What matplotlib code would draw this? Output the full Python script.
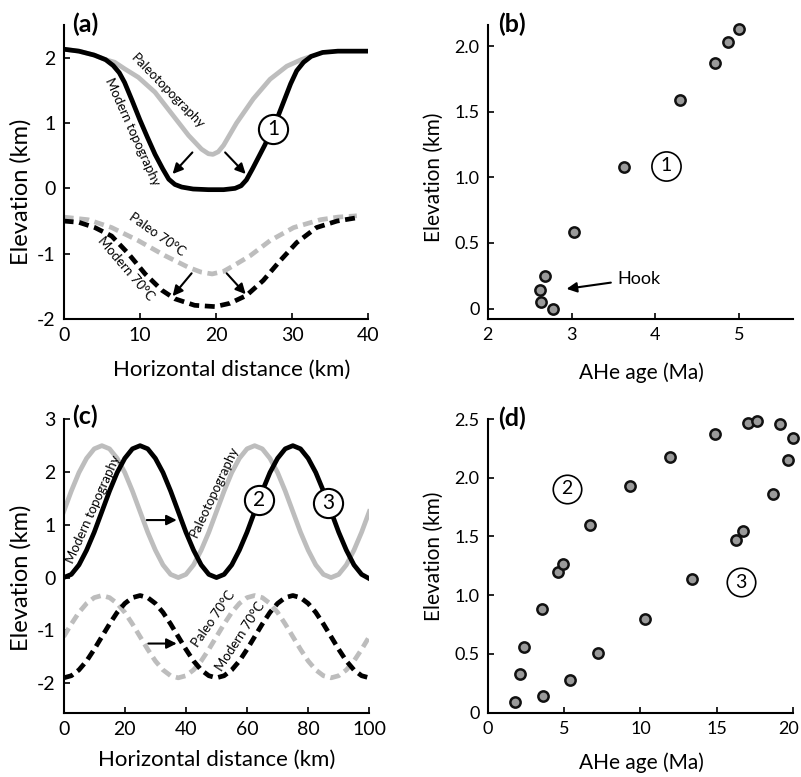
import numpy as np
import matplotlib
matplotlib.use("Agg")
import matplotlib.pyplot as plt
import matplotlib.transforms as mtransforms

plt.rcParams['font.family'] = ['Lato', 'DejaVu Sans']
plt.rcParams['axes.unicode_minus'] = False

# ---- panel (a): valley profiles ----
a_mod_x = [0, 2, 4, 5.5, 6.5, 7.3, 8, 9, 10, 11, 12, 13, 13.8, 14.6, 15.5, 17, 19, 21,
           22.5, 23.3, 24, 24.8, 25.6, 26.4, 27.3, 28.2, 29, 29.8, 30.6, 31.5, 32.5, 34, 36, 38, 40]
a_mod_y = [2.13, 2.10, 2.04, 1.97, 1.88, 1.77, 1.62, 1.34, 1.05, 0.78, 0.52, 0.30, 0.14, 0.06, 0.02,
           -0.01, -0.02, -0.02, 0.0, 0.04, 0.13, 0.30, 0.48, 0.66, 0.88, 1.12, 1.36, 1.60, 1.80, 1.93,
           2.02, 2.08, 2.10, 2.10, 2.10]
a_paleo_x = [0, 2, 4, 5.5, 6.7, 8, 9.8, 12, 14.2, 16.4, 18.1, 19.0, 19.6, 20.3, 21.0, 22.7, 24.9,
             27.1, 29.3, 31.2, 32.5]
a_paleo_y = [2.13, 2.10, 2.04, 1.97, 1.93, 1.83, 1.70, 1.47, 1.14, 0.81, 0.60, 0.53, 0.52, 0.56,
             0.66, 1.00, 1.37, 1.67, 1.87, 1.97, 2.02]
a_p70_x = [0, 3.2, 6.3, 9.8, 13.3, 16.4, 18, 19.5, 21, 22.5, 24.5, 27.1, 30.2, 33.7, 36, 38.5]
a_p70_y = [-0.44, -0.48, -0.60, -0.80, -1.03, -1.21, -1.28, -1.31, -1.27, -1.17, -1.03, -0.80,
           -0.60, -0.48, -0.44, -0.42]
a_m70_x = [0, 2, 4.1, 6.3, 8.5, 10.7, 12.9, 14.6, 17.2, 19.9, 21.8, 24.0, 26.2, 28.4, 30.6, 33.2,
           35.9, 38.5]
a_m70_y = [-0.50, -0.52, -0.60, -0.73, -1.00, -1.31, -1.56, -1.69, -1.79, -1.81, -1.76, -1.64,
           -1.41, -1.11, -0.83, -0.60, -0.50, -0.45]

# ---- panel (b): age-elevation ----
b_age = [2.68, 2.62, 2.63, 2.78, 3.03, 3.63, 4.29, 4.71, 4.86, 5.00]
b_elev = [0.25, 0.14, 0.05, 0.00, 0.58, 1.08, 1.59, 1.87, 2.03, 2.13]

# ---- panel (c): migrating ridges, sampled every 2.5 km ----
c_x = np.linspace(0, 100, 41)
c_mod = [0, 0.06, 0.24, 0.52, 0.86, 1.25, 1.64, 1.99, 2.26, 2.44, 2.5, 2.44, 2.26, 1.99, 1.64,
         1.25, 0.86, 0.52, 0.24, 0.06,
         0, 0.06, 0.24, 0.52, 0.86, 1.25, 1.64, 1.99, 2.26, 2.44, 2.5, 2.44, 2.26, 1.99, 1.64,
         1.25, 0.86, 0.52, 0.24, 0.06, -0.02]
c_paleo = [1.25, 1.64, 1.99, 2.26, 2.44, 2.5, 2.44, 2.26, 1.99, 1.64, 1.25, 0.86, 0.52, 0.24,
           0.06, 0, 0.06, 0.24, 0.52, 0.86,
           1.25, 1.64, 1.99, 2.26, 2.44, 2.5, 2.44, 2.26, 1.99, 1.64, 1.25, 0.86, 0.52, 0.24,
           0.06, 0, 0.06, 0.24, 0.52, 0.86, 1.25]
c_m70 = [-1.90, -1.86, -1.75, -1.58, -1.36, -1.12, -0.88, -0.66, -0.49, -0.38, -0.34, -0.38,
         -0.49, -0.66, -0.88, -1.12, -1.36, -1.58, -1.75, -1.86,
         -1.90, -1.86, -1.75, -1.58, -1.36, -1.12, -0.88, -0.66, -0.49, -0.38, -0.34, -0.38,
         -0.49, -0.66, -0.88, -1.12, -1.36, -1.58, -1.75, -1.86, -1.90]
c_p70 = [-1.12, -0.88, -0.66, -0.49, -0.38, -0.34, -0.38, -0.49, -0.66, -0.88, -1.12, -1.36,
         -1.58, -1.75, -1.86, -1.90, -1.86, -1.75, -1.58, -1.36,
         -1.12, -0.88, -0.66, -0.49, -0.38, -0.34, -0.38, -0.49, -0.66, -0.88, -1.12, -1.36,
         -1.58, -1.75, -1.86, -1.90, -1.86, -1.75, -1.58, -1.36, -1.12]

# ---- panel (d): age-elevation ----
d_age = [1.81, 2.12, 2.40, 3.58, 3.62, 4.60, 4.95, 5.39, 6.67, 7.24, 9.31, 10.32, 11.93, 13.35,
         14.90, 16.25, 16.73, 17.06, 17.64, 18.71, 19.13, 19.69, 20.0]
d_elev = [0.09, 0.33, 0.56, 0.88, 0.14, 1.20, 1.27, 0.28, 1.60, 0.51, 1.93, 0.80, 2.18, 1.14,
          2.37, 1.47, 1.55, 2.47, 2.48, 1.86, 2.46, 2.15, 2.34]

GRAY = '#bdbdbd'
LW = 3.4
DASH = (2.1, 1.2)

fig = plt.figure(figsize=(8.01, 7.77), dpi=100)
ax_a = fig.add_axes([0.0795, 0.5894, 0.3803, 0.3784])
ax_b = fig.add_axes([0.6089, 0.5894, 0.3812, 0.3784])
ax_c = fig.add_axes([0.0795, 0.0828, 0.3815, 0.3776])
ax_d = fig.add_axes([0.6089, 0.0828, 0.3812, 0.3779])


def style(ax, tsize):
    for s in ('top', 'right'):
        ax.spines[s].set_visible(False)
    for s in ('left', 'bottom'):
        ax.spines[s].set_linewidth(1.5)
    ax.tick_params(direction='in', length=4, width=1.2, labelsize=tsize, pad=6)


def arrow(ax, tail, head):
    ax.annotate('', xy=head, xytext=tail,
                arrowprops=dict(arrowstyle='-|>', color='k', lw=1.5, mutation_scale=15,
                                shrinkA=0, shrinkB=0))


def circled(ax, x, y, s, ms, fs, mew):
    ax.plot([x], [y], 'o', ms=ms, mfc='white', mec='k', mew=mew, zorder=6, clip_on=False)
    ax.text(x, y, s, ha='center', va='center', fontsize=fs, zorder=7)


def label_text(ax, x, y, s, rot):
    ax.text(x, y, s, rotation=rot, fontsize=9.5, ha='center', va='center',
            rotation_mode='anchor')


# (a)
ax = ax_a
ax.plot(a_paleo_x, a_paleo_y, color=GRAY, lw=LW, solid_capstyle='butt')
ax.plot(a_mod_x, a_mod_y, color='k', lw=LW, solid_capstyle='butt')
ax.plot(a_p70_x, a_p70_y, color=GRAY, lw=LW, dashes=DASH)
ax.plot(a_m70_x, a_m70_y, color='k', lw=LW, dashes=DASH)
arrow(ax, (16.9, 0.55), (14.3, 0.22))
arrow(ax, (21.2, 0.55), (23.9, 0.22))
arrow(ax, (16.8, -1.30), (14.3, -1.65))
arrow(ax, (21.4, -1.30), (23.9, -1.62))
label_text(ax, 13.7, 1.48, 'Paleotopography', -45.7)
label_text(ax, 9.0, 0.86, 'Modern topography', -65.8)
label_text(ax, 12.2, -0.71, 'Paleo 70°C', -35)
label_text(ax, 8.1, -1.23, 'Modern 70°C', -49.5)
circled(ax, 27.5, 0.91, '1', 21, 15, 1.5)
ax.set_xlim(0, 40)
ax.set_ylim(-2, 2.5)
ax.set_xticks([0, 10, 20, 30, 40])
ax.set_yticks([-2, -1, 0, 1, 2])
style(ax, 14)
ax.set_xlabel('Horizontal distance (km)', fontsize=16)
ax.set_ylabel('Elevation (km)', fontsize=17)
ax.xaxis.set_label_coords(0.553, -0.14)
ax.yaxis.set_label_coords(-0.104, 0.432)

# (b)
ax = ax_b
ax.plot(b_age, b_elev, 'o', ms=7.4, mfc='#9a9a9a', mec='#111111', mew=1.8, clip_on=False)
circled(ax, 4.13, 1.086, '1', 21, 14, 1.2)
ax.annotate('Hook', xy=(2.94, 0.15), xytext=(3.55, 0.228), fontsize=13, va='center', ha='left',
            arrowprops=dict(arrowstyle='-|>', color='k', lw=1.5, mutation_scale=15,
                            shrinkA=3, shrinkB=0))
ax.set_xlim(2, 5.64)
ax.set_ylim(-0.08, 2.16)
ax.set_xticks([2, 3, 4, 5])
ax.set_yticks([0, 0.5, 1.0, 1.5, 2.0])
ax.set_yticklabels(['0', '0.5', '1.0', '1.5', '2.0'])
style(ax, 13)
ax.set_xlabel('AHe age (Ma)', fontsize=15)
ax.set_ylabel('Elevation (km)', fontsize=15)
ax.xaxis.set_label_coords(0.504, -0.146)
ax.yaxis.set_label_coords(-0.145, 0.483)

# (c)
ax = ax_c
ax.plot(c_x, c_paleo, color=GRAY, lw=LW)
ax.plot(c_x, c_mod, color='k', lw=LW)
ax.plot(c_x, c_p70, color=GRAY, lw=LW, dashes=DASH)
ax.plot(c_x, c_m70, color='k', lw=LW, dashes=DASH)
arrow(ax, (27.2, 1.09), (37.0, 1.09))
arrow(ax, (27.7, -1.25), (37.0, -1.25))
label_text(ax, 9.7, 1.30, 'Modern topography', 66)
label_text(ax, 49.2, 1.63, 'Paleotopography', 65)
label_text(ax, 49.0, -0.79, 'Paleo 70°C', 55)
label_text(ax, 57.9, -1.12, 'Modern 70°C', 57)
circled(ax, 63.9, 1.47, '2', 21, 15, 1.5)
circled(ax, 86.6, 1.41, '3', 21, 15, 1.5)
ax.set_xlim(0, 100)
ax.set_ylim(-2.56, 3)
ax.set_xticks([0, 20, 40, 60, 80, 100])
ax.set_yticks([-2, -1, 0, 1, 2, 3])
style(ax, 14)
ax.set_xlabel('Horizontal distance (km)', fontsize=16)
ax.set_ylabel('Elevation (km)', fontsize=17)
ax.xaxis.set_label_coords(0.50, -0.127)
ax.yaxis.set_label_coords(-0.105, 0.46)

# (d)
ax = ax_d
ax.plot(d_age, d_elev, 'o', ms=7.4, mfc='#9a9a9a', mec='#111111', mew=1.8, clip_on=False)
circled(ax, 5.17, 1.906, '2', 20.5, 14, 1.2)
circled(ax, 16.58, 1.11, '3', 20.5, 14, 1.2)
ax.set_xlim(0, 20)
ax.set_ylim(0, 2.5)
ax.set_xticks([0, 5, 10, 15, 20])
ax.set_yticks([0, 0.5, 1.0, 1.5, 2.0, 2.5])
ax.set_yticklabels(['0', '0.5', '1.0', '1.5', '2.0', '2.5'])
style(ax, 13)
ax.set_xlabel('AHe age (Ma)', fontsize=15)
ax.set_ylabel('Elevation (km)', fontsize=15)
ax.xaxis.set_label_coords(0.504, -0.137)
ax.yaxis.set_label_coords(-0.145, 0.531)
# keep the last tick label inside the figure edge
last = ax.get_xticklabels()[-1]
last.set_transform(last.get_transform() + mtransforms.ScaledTranslation(-4 / 100, 0, fig.dpi_scale_trans))

for lbl, x, y in [('(a)', 72 / 801, 1 - 24 / 777), ('(b)', 498 / 801, 1 - 24 / 777),
                  ('(c)', 72 / 801, 1 - 416 / 777), ('(d)', 498 / 801, 1 - 418 / 777)]:
    fig.text(x, y, lbl, fontsize=18, fontweight='bold', ha='left', va='center')

fig.savefig('out.png', dpi=100)
